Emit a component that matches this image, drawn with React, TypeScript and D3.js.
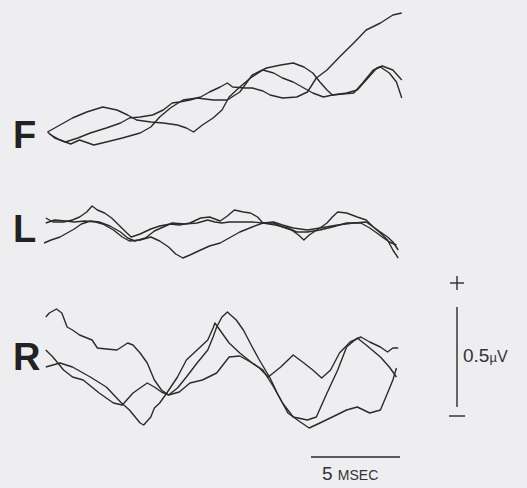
import React from 'react';
import * as d3 from 'd3';

// traces: [time in msec, potential in µV]
const fTrace1: [number, number][] = [
  [0.2, 0.04], [0.6, 0.01], [1.2, -0.01], [1.9, 0.01], [2.6, 0.035], [3.5, 0.06], [4.3, 0.085],
  [4.8, 0.11], [5.4, 0.115], [6.1, 0.125], [6.7, 0.15], [7.2, 0.185], [7.6, 0.19], [8.2, 0.2],
  [8.8, 0.215], [9.3, 0.24], [9.9, 0.265], [10.3, 0.285], [10.6, 0.265], [11.3, 0.26], [11.7, 0.26],
  [12.3, 0.245], [12.7, 0.225], [13.4, 0.21], [14.2, 0.215], [14.8, 0.24], [15.3, 0.31], [15.9, 0.35],
  [16.6, 0.415], [17.4, 0.485], [18.1, 0.55], [18.9, 0.585], [19.6, 0.625], [20.1, 0.635],
];
const fTrace2: [number, number][] = [
  [0.2, 0.04], [0.9, 0.075], [1.6, 0.11], [2.4, 0.14], [3.3, 0.165], [4.1, 0.15], [4.7, 0.125],
  [5.2, 0.1], [6.0, 0.09], [6.7, 0.085], [7.5, 0.075], [8.0, 0.06], [8.4, 0.04], [8.9, 0.075],
  [9.5, 0.11], [10.0, 0.15], [10.4, 0.215], [11.0, 0.265], [11.6, 0.31], [12.3, 0.35], [12.9, 0.335],
  [13.4, 0.31], [14.0, 0.29], [14.6, 0.26], [15.1, 0.235], [15.7, 0.215], [16.2, 0.225], [17.0, 0.235],
  [17.6, 0.25], [18.1, 0.3], [18.7, 0.36], [19.0, 0.37], [19.6, 0.35], [20.1, 0.3],
];
const fTrace3: [number, number][] = [
  [0.3, 0.03], [0.9, 0.0], [1.5, -0.02], [2.0, 0.0], [2.8, -0.025], [3.5, -0.01], [4.4, 0.01],
  [5.4, 0.035], [6.0, 0.065], [6.5, 0.115], [7.1, 0.16], [7.8, 0.2], [8.6, 0.21], [9.5, 0.2],
  [10.3, 0.2], [11.0, 0.24], [11.7, 0.325], [12.5, 0.36], [13.3, 0.375], [14.0, 0.385], [14.6, 0.365],
  [15.1, 0.335], [15.5, 0.29], [15.9, 0.25], [16.2, 0.225], [16.8, 0.23], [17.4, 0.235], [17.9, 0.285],
  [18.5, 0.35], [18.9, 0.365], [19.4, 0.335], [19.8, 0.29], [20.1, 0.21],
];

const lTrace1: [number, number][] = [
  [0.1, 0.11], [0.5, 0.09], [1.1, 0.09], [1.6, 0.1], [2.0, 0.115], [2.4, 0.14], [2.7, 0.17],
  [3.0, 0.15], [3.4, 0.135], [3.8, 0.11], [4.2, 0.075], [4.6, 0.04], [4.9, 0.015], [5.4, 0.03],
  [6.0, 0.055], [6.5, 0.07], [7.1, 0.08], [7.6, 0.075], [8.2, 0.085], [8.8, 0.11], [9.3, 0.115],
  [9.9, 0.095], [10.3, 0.12], [10.7, 0.15], [11.2, 0.14], [11.6, 0.135], [12.0, 0.115], [12.3, 0.085],
  [12.9, 0.085], [13.4, 0.065], [13.9, 0.05], [14.3, 0.025], [14.6, 0.0], [14.9, 0.025], [15.5, 0.06],
  [15.9, 0.085], [16.2, 0.115], [16.5, 0.14], [17.0, 0.135], [17.6, 0.115], [18.1, 0.1], [18.5, 0.065],
  [18.9, 0.04], [19.3, 0.015], [19.6, -0.01], [19.9, -0.05],
];
const lTrace2: [number, number][] = [
  [0.1, 0.085], [0.6, 0.1], [1.2, 0.095], [1.7, 0.09], [2.3, 0.095], [2.9, 0.09], [3.3, 0.08],
  [3.9, 0.05], [4.4, 0.015], [4.8, -0.005], [5.4, 0.0], [6.0, 0.015], [6.5, -0.005], [7.0, -0.035],
  [7.4, -0.07], [7.8, -0.09], [8.2, -0.075], [8.8, -0.05], [9.3, -0.03], [9.9, -0.015], [10.4, 0.01],
  [11.0, 0.04], [11.7, 0.065], [12.3, 0.085], [13.0, 0.075], [13.7, 0.06], [14.2, 0.04], [14.8, 0.04],
  [15.5, 0.05], [16.2, 0.065], [17.0, 0.085], [17.8, 0.085], [18.3, 0.06], [18.7, 0.035], [19.0, 0.015],
  [19.4, -0.01], [19.8, -0.025],
];
const lTrace3: [number, number][] = [
  [0.0, -0.015], [0.4, 0.0], [0.9, 0.015], [1.3, 0.035], [1.7, 0.055], [2.1, 0.08], [2.6, 0.095],
  [3.1, 0.09], [3.7, 0.07], [4.3, 0.04], [4.7, 0.01], [5.1, -0.005], [5.7, 0.01], [6.2, 0.045],
  [6.7, 0.065], [7.2, 0.085], [7.9, 0.08], [8.6, 0.085], [9.2, 0.1], [9.6, 0.09], [10.0, 0.085],
  [10.4, 0.09], [10.8, 0.09], [11.7, 0.09], [12.3, 0.085], [12.9, 0.09], [13.4, 0.075], [14.0, 0.06],
  [14.8, 0.05], [15.5, 0.06], [16.5, 0.075], [17.4, 0.085], [18.1, 0.09], [18.5, 0.065], [18.9, 0.035],
  [19.3, 0.0], [19.6, -0.05], [19.9, -0.09],
];

const rTrace1: [number, number][] = [
  [0.1, 0.415], [0.3, 0.435], [0.7, 0.455], [1.0, 0.435], [1.3, 0.365], [1.6, 0.35], [2.0, 0.325],
  [2.7, 0.3], [3.0, 0.26], [3.5, 0.255], [4.1, 0.25], [4.7, 0.285], [5.0, 0.275], [5.4, 0.235],
  [5.8, 0.185], [6.2, 0.1], [6.6, 0.05], [7.0, 0.025], [7.5, 0.06], [8.0, 0.115], [8.6, 0.185],
  [9.2, 0.25], [9.5, 0.315], [9.7, 0.365], [10.0, 0.415], [10.3, 0.44], [10.8, 0.4], [11.2, 0.35],
  [11.7, 0.265], [12.1, 0.2], [12.7, 0.11], [13.1, 0.035], [13.7, -0.065], [14.4, -0.11], [14.9, -0.14],
  [15.5, -0.115], [16.2, -0.085], [17.0, -0.05], [17.6, -0.035], [18.3, -0.065], [18.9, -0.05],
  [19.3, 0.035], [19.6, 0.1], [19.8, 0.16],
];
const rTrace2: [number, number][] = [
  [0.1, 0.25], [0.5, 0.215], [1.1, 0.15], [1.6, 0.115], [2.2, 0.1], [3.1, 0.035], [3.9, -0.015],
  [4.4, -0.025], [5.0, 0.035], [5.8, 0.085], [6.2, 0.065], [6.6, 0.04], [7.0, 0.025], [7.6, 0.04],
  [8.2, 0.085], [8.9, 0.1], [9.7, 0.135], [10.4, 0.215], [11.0, 0.22], [11.6, 0.19], [12.1, 0.16],
  [12.6, 0.115], [13.3, 0.165], [14.0, 0.225], [14.6, 0.185], [15.1, 0.15], [15.6, 0.11], [16.1, 0.15],
  [16.6, 0.235], [17.2, 0.29], [17.8, 0.315], [18.3, 0.29], [18.9, 0.265], [19.3, 0.24], [19.6, 0.26],
  [19.9, 0.26],
];
const rTrace3: [number, number][] = [
  [0.1, 0.165], [0.5, 0.175], [0.9, 0.185], [1.6, 0.165], [2.6, 0.115], [3.5, 0.065], [4.3, -0.01],
  [4.8, -0.05], [5.4, -0.115], [5.6, -0.125], [6.0, -0.085], [6.2, -0.04], [6.5, -0.015], [6.9, 0.035],
  [7.5, 0.115], [8.0, 0.2], [8.6, 0.25], [9.2, 0.3], [9.5, 0.36], [9.6, 0.385], [10.0, 0.335],
  [10.4, 0.285], [11.0, 0.235], [11.7, 0.185], [12.3, 0.15], [12.9, 0.065], [13.4, -0.015], [14.0, -0.085],
  [14.8, -0.1], [15.3, -0.085], [15.9, 0.035], [16.5, 0.15], [17.0, 0.265], [17.6, 0.31], [18.1, 0.275],
  [18.9, 0.215], [19.4, 0.165], [19.8, 0.115],
];

const panelLabels = ['F', 'L', 'R'];
const panelTraces = [
  [fTrace1, fTrace2, fTrace3],
  [lTrace1, lTrace2, lTrace3],
  [rTrace1, rTrace2, rTrace3],
];
const timeBarMs = 5;
const voltBarUv = 0.5;

const W = 527, H = 488;
const baselines = [140, 240, 400];
const labelBaselines = [148, 242, 370];
const pxPerUv = 200;
const ink = '#2b2b2b';
const font = 'Liberation Sans, Arial, sans-serif';

export default function App() {
  const x = d3.scaleLinear().domain([0, 20]).range([44, 400]);
  const bar = d3.scaleLinear().domain([0, voltBarUv]).range([407, 407 - voltBarUv * pxPerUv]);

  return (
    <svg width={W} height={H} style={{ position: 'absolute', left: 0, top: 0, background: '#eeeef0' }}>
      {panelTraces.map((traces, i) => {
        const y = d3.scaleLinear().domain([0, 1]).range([baselines[i], baselines[i] - pxPerUv]);
        const line = d3.line<[number, number]>().x(d => x(d[0])).y(d => y(d[1]));
        return (
          <g key={i}>
            <text x={13} y={labelBaselines[i]} fontFamily={font} fontWeight="bold" fontSize={38} fill="#222">
              {panelLabels[i]}
            </text>
            {traces.map((tr, j) =>
              <path key={j} d={line(tr) || ''} fill="none" stroke={ink} strokeWidth={1.4} strokeLinejoin="round" />
            )}
          </g>
        );
      })}

      {/* voltage scale */}
      <g stroke={ink} strokeWidth={1.4} fill="none">
        <line x1={457} x2={457} y1={bar(0)} y2={bar(voltBarUv)} />
        <line x1={450} x2={464} y1={283} y2={283} />
        <line x1={457} x2={457} y1={276} y2={290} />
        <line x1={449} x2={465} y1={416} y2={416} />
      </g>
      <text x={463} y={362} fontFamily={font} fontSize={19} fill="#333">
        0.5<tspan fontSize={13}>µ</tspan><tspan fontSize={16}>V</tspan>
      </text>

      {/* time scale */}
      <line x1={x(20 - timeBarMs)} x2={x(20)} y1={457} y2={457} stroke={ink} strokeWidth={1.4} />
      <text x={322} y={480} fontFamily={font} fontSize={19} fill="#333">
        {timeBarMs} <tspan fontSize={14}>MSEC</tspan>
      </text>
    </svg>
  );
}
